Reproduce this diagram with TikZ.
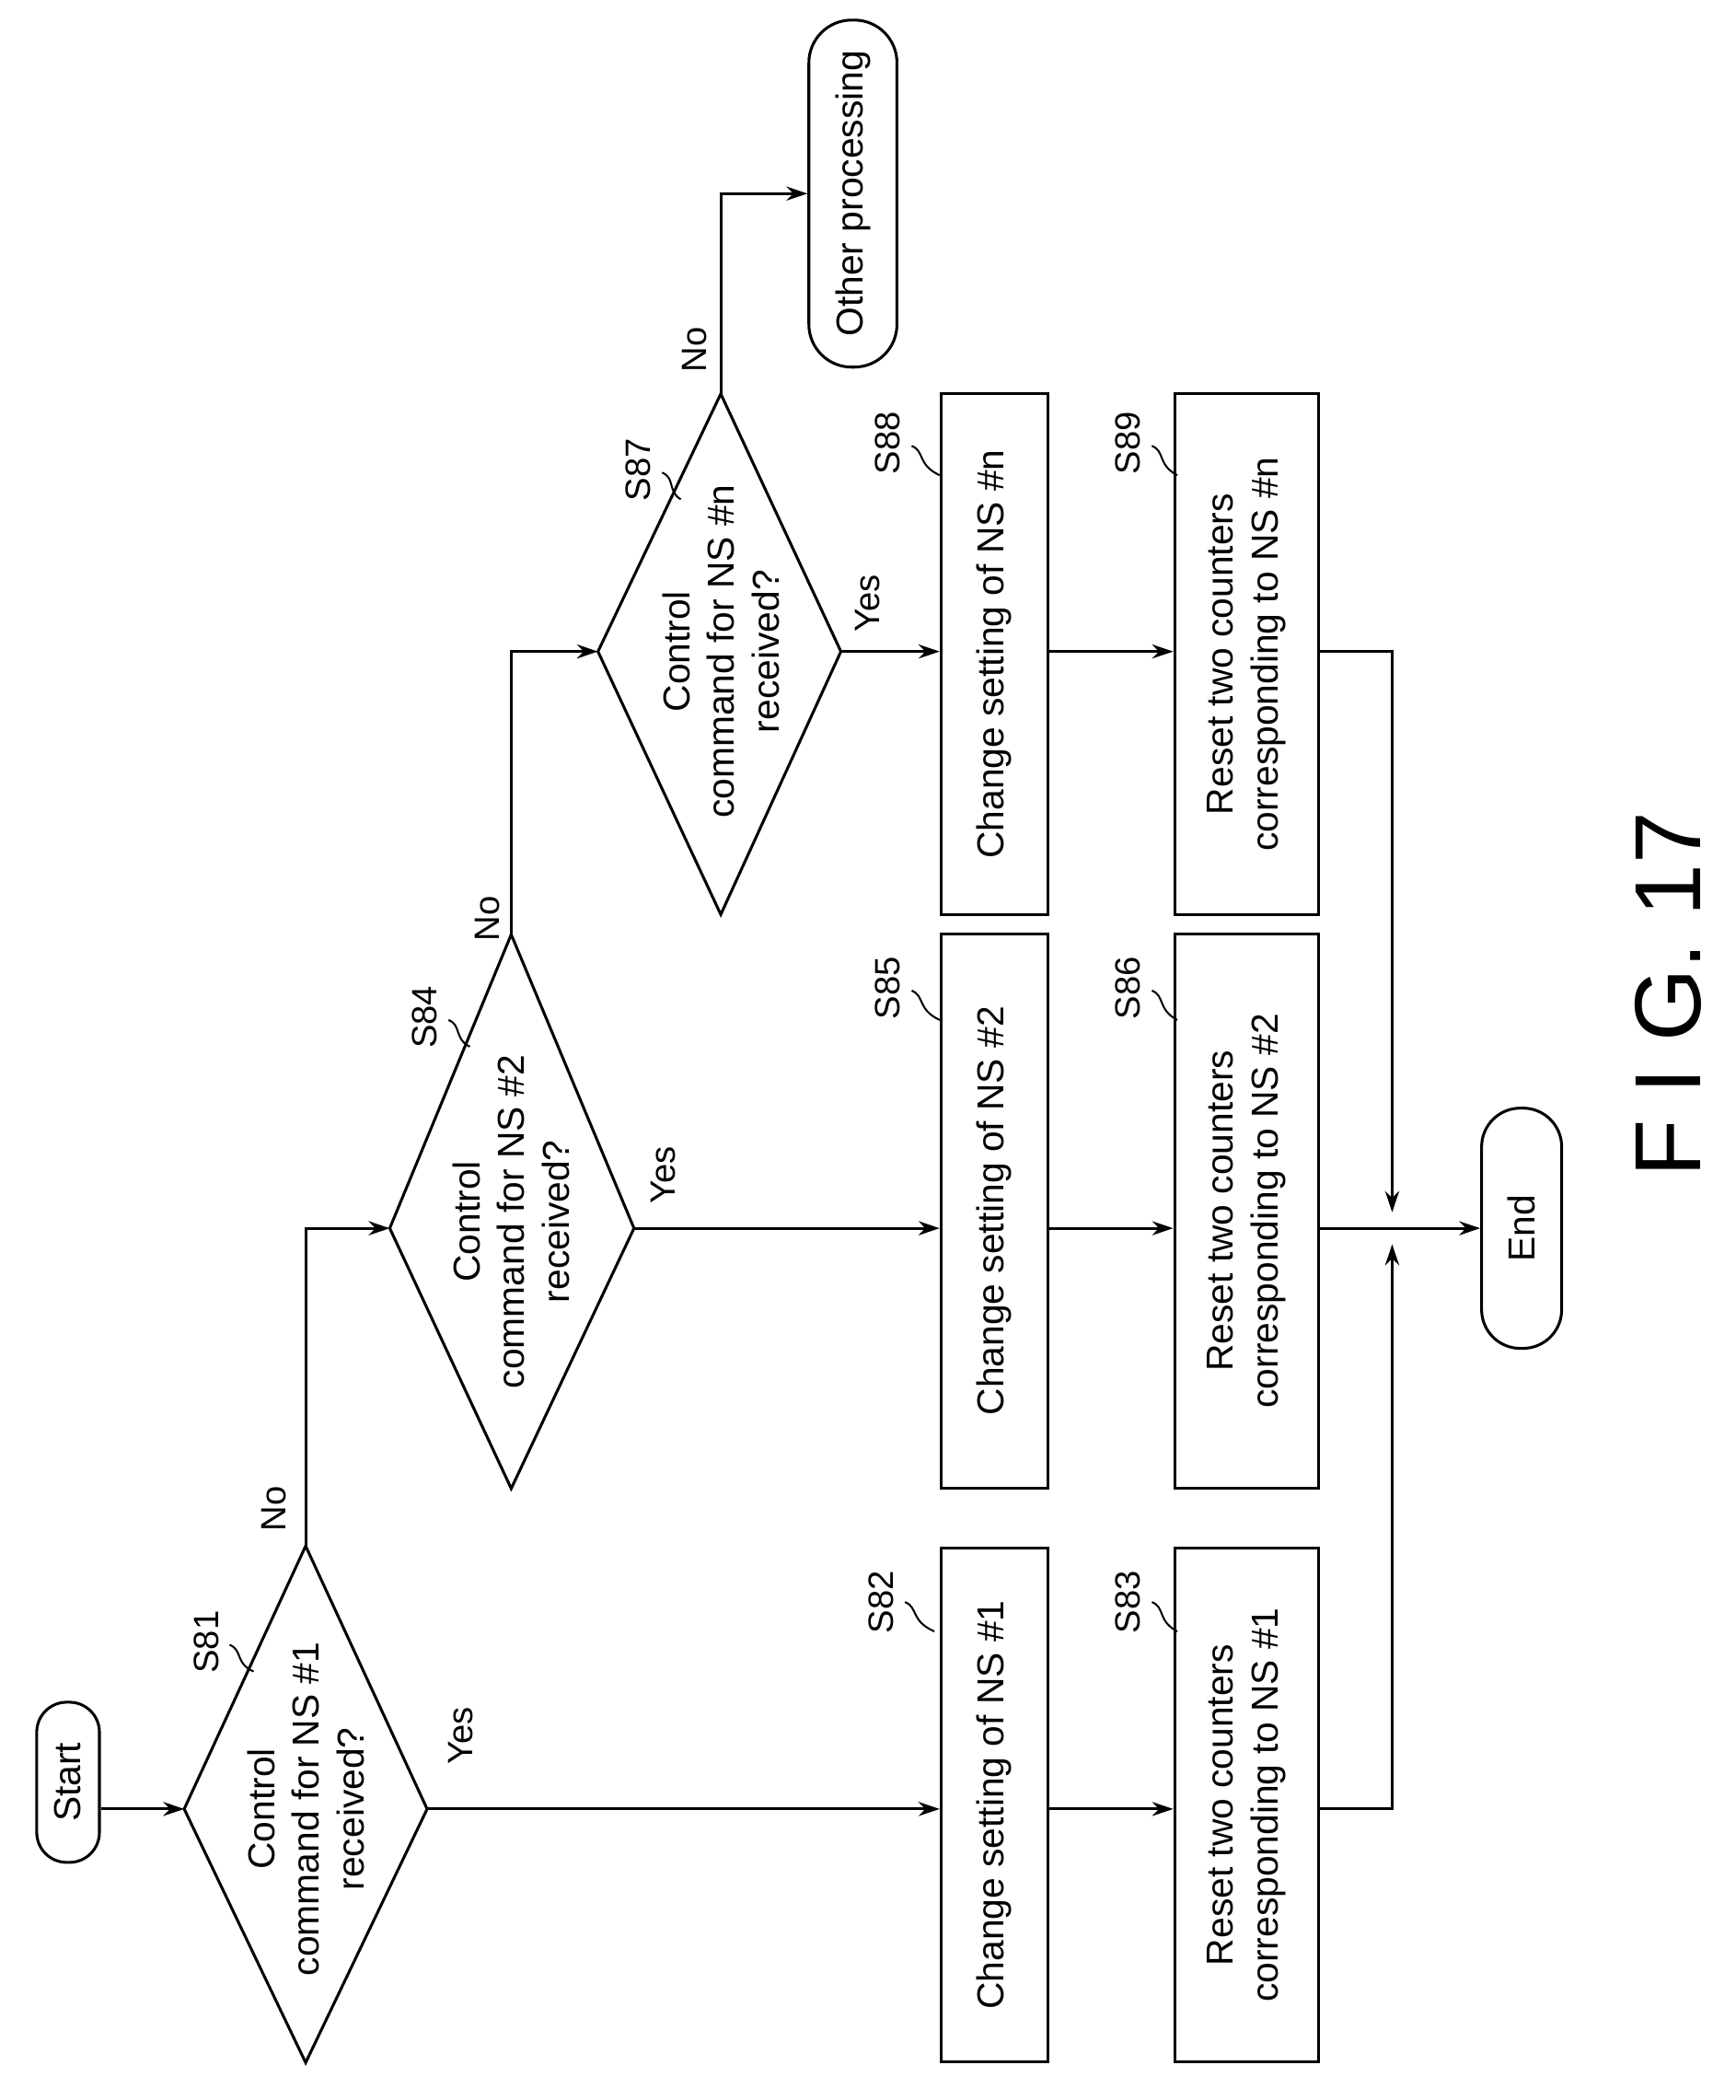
\documentclass[tikz,border=0pt]{standalone}
\usepackage{fontspec}
\setmainfont{Liberation Sans}
\usetikzlibrary{arrows.meta}
\begin{document}
\begin{tikzpicture}[x=0.02cm,y=-0.02cm,
  line width=1.2pt,
  arr/.style={-{Stealth[length=9pt,width=6pt]}},
  box/.style={draw,rotate=90,minimum width=7.7cm,minimum height=1.6cm,align=center,font=\fontsize{16}{19}\selectfont,inner sep=2pt},
  term/.style={draw,rotate=90,align=center,font=\fontsize{16}{19}\selectfont,inner sep=2pt},
  dtext/.style={rotate=90,align=center,font=\fontsize{16}{19}\selectfont},
  lab/.style={rotate=90,font=\fontsize{15}{18}\selectfont},
  sq/.style={line width=0.8pt}]
\useasboundingbox (0,0) rectangle (1300,1573);
% terminals
\node[term,rounded corners=0.45cm,minimum width=2.4cm,minimum height=0.94cm] (start) at (51,1335) {Start};
\node[term,rounded corners=0.58cm,minimum width=3.6cm,minimum height=1.2cm] (end) at (1140,920) {End};
\node[term,rounded corners=0.64cm,minimum width=5.2cm,minimum height=1.32cm] (other) at (639,145) {Other processing};
% diamonds
\coordinate (d1l) at (138,1355); \coordinate (d1r) at (320,1355);
\coordinate (d1t) at (229,1158); \coordinate (d1b) at (229,1545);
\coordinate (d2l) at (292,920); \coordinate (d2r) at (475,920);
\coordinate (d2t) at (383,700); \coordinate (d2b) at (383,1115);
\coordinate (d3l) at (448,488); \coordinate (d3r) at (630,488);
\coordinate (d3t) at (540,295); \coordinate (d3b) at (540,685);
\draw (d1l)--(d1t)--(d1r)--(d1b)--cycle;
\draw (d2l)--(d2t)--(d2r)--(d2b)--cycle;
\draw (d3l)--(d3t)--(d3r)--(d3b)--cycle;
\node[dtext] (t1) at (229,1355) {Control\\command for NS \#1\\received?};
\node[dtext] (t2) at (383,915) {Control\\command for NS \#2\\received?};
\node[dtext] (t3) at (540,488) {Control\\command for NS \#n\\received?};
% boxes
\node[box] (s82) at (745,1352) {Change setting of NS \#1};
\node[box,minimum height=2.16cm] (s83) at (934,1352) {Reset two counters\\corresponding to NS \#1};
\node[box,minimum width=8.3cm] (s85) at (745,907) {Change setting of NS \#2};
\node[box,minimum width=8.3cm,minimum height=2.16cm] (s86) at (934,907) {Reset two counters\\corresponding to NS \#2};
\node[box,minimum width=7.8cm] (s88) at (745,490) {Change setting of NS \#n};
\node[box,minimum width=7.8cm,minimum height=2.16cm] (s89) at (934,490) {Reset two counters\\corresponding to NS \#n};
% connectors
\coordinate (j1) at (1043,1355); \coordinate (j3) at (1043,488);
\coordinate (ja) at (1043,932); \coordinate (jb) at (1043,908);
\draw[arr] (start.south |- d1l) -- (d1l);
\draw[arr] (d1r) -- (s82.north |- d1r);
\draw[arr] (s82.south |- d1r) -- (s83.north |- d1r);
\draw[arr] (s83.south |- d1r) -- (j1) -- (ja);
\draw[arr] (d1t) |- (d2l);
\draw[arr] (d2r) -- (s85.north |- d2r);
\draw[arr] (s85.south |- d2r) -- (s86.north |- d2r);
\draw[arr] (s86.south |- d2r) -- (end.north);
\draw[arr] (d2t) |- (d3l);
\draw[arr] (d3r) -- (s88.north |- d3r);
\draw[arr] (s88.south |- d3r) -- (s89.north |- d3r);
\draw[arr] (s89.south |- d3r) -- (j3) -- (jb);
\draw[arr] (d3t) |- (other.north);
% yes/no
\node[lab] (y1) at (345,1300) {Yes};
\node[lab] (n1) at (205,1130) {No};
\node[lab] (y2) at (497,880) {Yes};
\node[lab] (n2) at (365,688) {No};
\node[lab] (y3) at (650,452) {Yes};
\node[lab] (n3) at (520,262) {No};
% step labels
\node[lab] (l81) at (155,1230) {S81};
\draw[sq] (172,1232) .. controls (182,1236) and (176,1246) .. (190,1252);
\node[lab] (l82) at (660,1200) {S82};
\draw[sq] (678,1200) .. controls (688,1204) and (682,1214) .. (700,1222);
\node[lab] (l83) at (845,1200) {S83};
\draw[sq] (863,1200) .. controls (873,1204) and (867,1214) .. (882,1222);
\node[lab] (l84) at (318,762) {S84};
\draw[sq] (336,764) .. controls (346,768) and (340,778) .. (352,784);
\node[lab] (l85) at (665,740) {S85};
\draw[sq] (683,742) .. controls (693,746) and (687,756) .. (704,764);
\node[lab] (l86) at (845,740) {S86};
\draw[sq] (863,742) .. controls (873,746) and (867,756) .. (882,764);
\node[lab] (l87) at (478,352) {S87};
\draw[sq] (496,354) .. controls (506,358) and (500,368) .. (510,374);
\node[lab] (l88) at (665,332) {S88};
\draw[sq] (683,334) .. controls (693,338) and (687,348) .. (704,356);
\node[lab] (l89) at (845,332) {S89};
\draw[sq] (863,334) .. controls (873,338) and (867,348) .. (882,356);
% figure label
\node[rotate=90,font=\fontsize{40}{46}\selectfont] (fig) at (1250,745) {F I G. 17};
\end{tikzpicture}
\end{document}
